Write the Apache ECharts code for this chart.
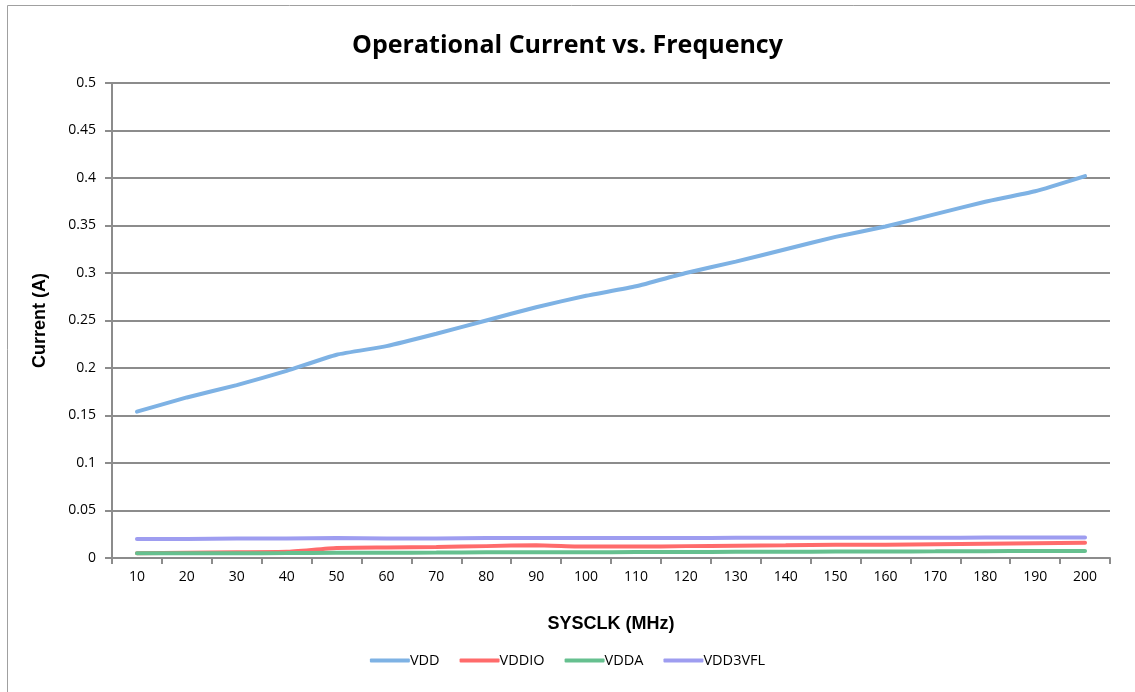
<!DOCTYPE html>
<html>
<head>
<meta charset="utf-8">
<script src="https://cdn.jsdelivr.net/npm/echarts@6/dist/echarts.min.js"></script>
<style>
  html, body { margin: 0; padding: 0; background: #fff; }
  #chart { width: 1135px; height: 692px; }
</style>
</head>
<body>
<div id="chart"></div>
<script>
const categories = ["10", "20", "30", "40", "50", "60", "70", "80", "90", "100",
  "110", "120", "130", "140", "150", "160", "170", "180", "190", "200"];
const vdd = [0.154, 0.169, 0.182, 0.197, 0.214, 0.223, 0.236, 0.250, 0.264, 0.276,
  0.286, 0.300, 0.312, 0.325, 0.338, 0.349, 0.362, 0.375, 0.386, 0.402];
const vddio = [0.005, 0.0055, 0.006, 0.0065, 0.0105, 0.011, 0.0115, 0.0125, 0.0135, 0.012,
  0.012, 0.0125, 0.013, 0.0135, 0.014, 0.014, 0.0145, 0.015, 0.0155, 0.016];
const vdda = [0.005, 0.005, 0.005, 0.0052, 0.0055, 0.0055, 0.0057, 0.006, 0.006, 0.006,
  0.0062, 0.0063, 0.0065, 0.0066, 0.0068, 0.0069, 0.007, 0.0072, 0.0073, 0.0074];
const vdd3vfl = [0.020, 0.020, 0.0205, 0.0205, 0.021, 0.0205, 0.0205, 0.021, 0.021, 0.021,
  0.021, 0.021, 0.0212, 0.0212, 0.0212, 0.0213, 0.0213, 0.0215, 0.0215, 0.0215];
const yTicks = [0, 0.05, 0.1, 0.15, 0.2, 0.25, 0.3, 0.35, 0.4, 0.45, 0.5];

const chart = echarts.init(document.getElementById("chart"));

function line(name, data, color) {
  return {
    name: name,
    type: "line",
    data: data,
    symbol: "none",
    smooth: 0.15,
    lineStyle: { width: 4, color: color, cap: "round" },
    itemStyle: { color: color },
  };
}

chart.setOption({
  animation: false,
  title: {
    text: "Operational Current vs. Frequency",
    left: "center",
    top: 28,
    textStyle: { fontFamily: "Open Sans", fontSize: 25, fontWeight: "bold", color: "#000" },
  },
  graphic: [
    {
      type: "rect",
      shape: { x: 7.5, y: 5.5, width: 1140, height: 700 },
      style: { fill: "none", stroke: "#a0a0a0", lineWidth: 1 },
      silent: true,
    },
  ],
  legend: {
    bottom: 19,
    left: "center",
    itemWidth: 40,
    itemHeight: 4,
    itemGap: 20,
    icon: "roundRect",
    textStyle: { fontFamily: "Open Sans", fontSize: 14.5, color: "#000", padding: [0, 0, 0, -5] },
    data: ["VDD", "VDDIO", "VDDA", "VDD3VFL"],
  },
  grid: { left: 112, right: 25, top: 83, bottom: 134 },
  xAxis: {
    type: "category",
    data: categories,
    boundaryGap: true,
    name: "SYSCLK (MHz)",
    nameLocation: "middle",
    nameGap: 57,
    nameTextStyle: { fontFamily: "Liberation Sans", fontSize: 18, fontWeight: "bold", color: "#000" },
    axisLine: { lineStyle: { color: "#8c8c8c", width: 2 } },
    axisTick: { show: true, alignWithLabel: false, length: 6, lineStyle: { color: "#8c8c8c", width: 2 } },
    axisLabel: { fontFamily: "Open Sans", fontSize: 14, color: "#000", margin: 12, interval: 0 },
  },
  yAxis: {
    type: "value",
    min: 0,
    max: 0.5,
    interval: 0.05,
    name: "Current (A)",
    nameLocation: "middle",
    nameRotate: 90,
    nameGap: 63,
    nameTextStyle: { fontFamily: "Liberation Sans", fontSize: 18, fontWeight: "bold", color: "#000" },
    axisLine: { show: true, lineStyle: { color: "#8c8c8c", width: 2 } },
    axisTick: { show: true, length: 7, lineStyle: { color: "#8c8c8c", width: 2 } },
    axisLabel: {
      fontFamily: "Open Sans",
      fontSize: 14,
      color: "#000",
      margin: 16,
      formatter: (v) => {
        const t = yTicks.find((x) => Math.abs(x - v) < 1e-9);
        return t === undefined ? "" : String(t);
      },
    },
    splitLine: { lineStyle: { color: "#8c8c8c", width: 2 } },
  },
  series: [
    line("VDD", vdd, "#7eb2e4"),
    line("VDDIO", vddio, "#ff6b6b"),
    line("VDDA", vdda, "#66c08f"),
    line("VDD3VFL", vdd3vfl, "#9e9df0"),
  ],
});
</script>
</body>
</html>
